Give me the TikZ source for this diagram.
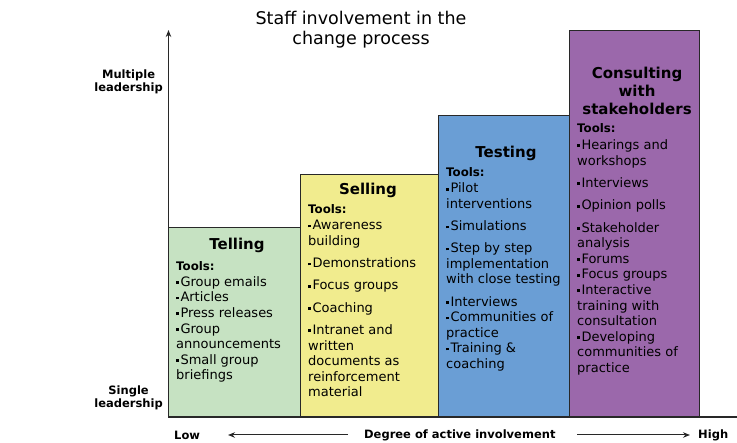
\documentclass[tikz,border=0pt]{standalone}
\usepackage{fontspec}
\setmainfont{DejaVu Sans}
\usetikzlibrary{arrows.meta}
\definecolor{cgreen}{RGB}{198,226,194}
\definecolor{cyellow}{RGB}{241,236,142}
\definecolor{cblue}{RGB}{106,158,213}
\definecolor{cpurple}{RGB}{155,104,171}
\definecolor{cline}{RGB}{40,40,40}
\newcommand\bul{\rule[2.4pt]{2.7pt}{2.7pt}\hspace{1.6pt}}
\newcommand\toolsl{{\bfseries\fontsize{11.8}{14}\selectfont Tools:}}
\tikzset{
  stagebox/.style={draw=cline, line width=0.9pt, anchor=south west, inner sep=0pt, outer sep=0pt},
  hd/.style={font=\bfseries\fontsize{15}{18}\selectfont, align=center, inner sep=0pt},
  txt/.style={font=\fontsize{13}{15.6}\selectfont, align=left, inner sep=0pt, anchor=north west},
  axlab/.style={font=\bfseries\fontsize{11.5}{13.5}\selectfont, align=center, inner sep=0pt},
  axis/.style={draw=cline, line width=1.1pt},
  tip/.style={-{Stealth[length=7pt,width=5.5pt]}}
}
\begin{document}
\begin{tikzpicture}[x=1pt,y=-1pt]
\useasboundingbox (0,0) rectangle (737,443);
% boxes
\node[stagebox, fill=cgreen, minimum width=132pt, minimum height=190pt] (tellbox) at (168,417) {};
\node[stagebox, fill=cyellow, minimum width=138pt, minimum height=243pt] (sellbox) at (300,417) {};
\node[stagebox, fill=cblue, minimum width=131pt, minimum height=302pt] (testbox) at (438,417) {};
\node[stagebox, fill=cpurple, minimum width=130pt, minimum height=387pt] (consbox) at (569,417) {};
% axes
\coordinate (origin) at (168.5,417);
\coordinate (ytop) at (168.5,30);
\coordinate (xend) at (737,417);
\draw[axis, tip] (origin) -- (ytop);
\draw[axis] (origin) -- (xend);
% title
\node[font=\fontsize{17.5}{20}\selectfont, align=center, inner sep=0pt] (title) at (361,29.5) {Staff involvement in the\\change process};
% axis labels
\node[axlab, anchor=east] (multi) at (163,82) {Multiple\\leadership};
\node[axlab, anchor=east] (single) at (163,398) {Single\\leadership};
\node[axlab, anchor=west] (low) at (174,435) {Low};
\node[axlab, anchor=west] (degree) at (364,435) {Degree of active involvement};
\node[axlab, anchor=west] (high) at (698,435) {High};
\coordinate (la1) at (348,435);
\coordinate (la2) at (228,435);
\coordinate (ra1) at (577,435);
\coordinate (ra2) at (690,435);
\draw[axis, line width=1pt, tip] (la1) -- (la2);
\draw[axis, line width=1pt, tip] (ra1) -- (ra2);
% headers
\node[hd] (tellhd) at (237,245) {Telling};
\node[hd] (sellhd) at (368,190) {Selling};
\node[hd] (testhd) at (506,153) {Testing};
\node[hd] (conshd) at (637,91) {Consulting\\with\\stakeholders};
% texts
\node[txt] (telltxt) at (176,261) {\toolsl\\[0.5pt]
\bul Group emails\\
\bul Articles\\
\bul Press releases\\
\bul Group\\
announcements\\
\bul Small group\\
briefings};
\node[txt] (selltxt) at (308,204) {\toolsl\\[1pt]
\bul Awareness\\
building\\[6.7pt]
\bul Demonstrations\\[6.7pt]
\bul Focus groups\\[6.7pt]
\bul Coaching\\[6.7pt]
\bul Intranet and\\
written\\
documents as\\
reinforcement\\
material};
\node[txt] (testtxt) at (446,167) {\toolsl\\[1.2pt]
\bul Pilot\\
interventions\\[6.5pt]
\bul Simulations\\[6.5pt]
\bul Step by step\\
implementation\\
with close testing\\[6.5pt]
\bul Interviews\\
\bul Communities of\\
practice\\
\bul Training \&\\
coaching};
\node[txt] (constxt) at (577,123) {\toolsl\\[1.8pt]
\bul Hearings and\\
workshops\\[6.8pt]
\bul Interviews\\[6.8pt]
\bul Opinion polls\\[6.6pt]
\bul Stakeholder\\
analysis\\
\bul Forums\\
\bul Focus groups\\
\bul Interactive\\
training with\\
consultation\\
\bul Developing\\
communities of\\
practice};
\end{tikzpicture}
\end{document}
